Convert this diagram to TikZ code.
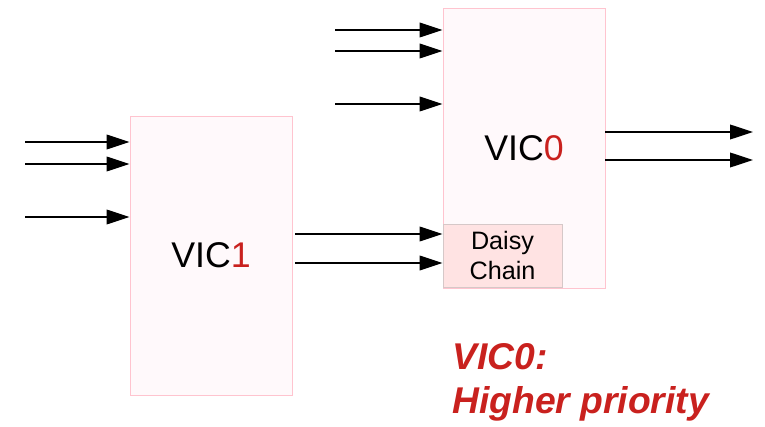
\documentclass[tikz,border=0pt]{standalone}
\usepackage{xcolor}
\usepackage{fontspec}
\setmainfont{Liberation Sans}
\usepackage{tikz}
\usetikzlibrary{arrows.meta, positioning, calc}
\definecolor{vicRed}{HTML}{C9211E}
\definecolor{vicBorder}{HTML}{FFC4CF}
\definecolor{vicFill}{HTML}{FFF9FB}
\definecolor{chainFill}{HTML}{FFE3E3}
\definecolor{chainBorder}{HTML}{D6C8C8}

\begin{document}
\begin{tikzpicture}[x=0.03cm, y=-0.03cm,
    vicbox/.style={rectangle, minimum width=4.86cm, minimum height=8.4cm, inner sep=0pt,
      draw=vicBorder, fill=vicFill, line width=0.8pt,
      font=\fontsize{30.5}{36}\selectfont},
    chainbox/.style={rectangle, minimum width=3.57cm, minimum height=1.89cm, inner sep=0pt,
      align=center, draw=chainBorder, fill=chainFill, line width=0.8pt,
      font=\fontsize{21.5}{25.6}\selectfont},
    sig/.style={-{Triangle[length=19.5pt, width=12.5pt]}, line width=1.2pt, black}
  ]
  \useasboundingbox (0,0) rectangle (765,427);
  % the two controllers
  \node[vicbox, minimum height=8.37cm] (vic1) at (211,255.5) {VIC\textcolor{vicRed}{1}};
  \node[vicbox] (vic0) at (524,148) {VIC\textcolor{vicRed}{0}};
  \node[chainbox] (chain) at (502.5,255.5) {Daisy\\Chain};
  % interrupt inputs
  \foreach \i/\y in {1/142, 2/164, 3/217} {
    \coordinate (a\i) at (25,\y);
    \draw[sig] (a\i) -- (a\i -| vic1.west);
  }
  \foreach \i/\y in {1/30, 2/51, 3/104} {
    \coordinate (b\i) at (335,\y);
    \draw[sig] (b\i) -- (b\i -| vic0.west);
  }
  % VIC1 -> daisy chain
  \foreach \i/\y in {1/234, 2/263} {
    \coordinate (c\i) at (295,\y);
    \draw[sig] (c\i) -- (c\i -| chain.west);
  }
  % outputs
  \foreach \i/\y in {1/132, 2/160} {
    \coordinate (o\i) at (753,\y);
    \draw[sig] (o\i -| vic0.east) -- (o\i);
  }
  \node[anchor=north west, inner sep=0pt, align=left, text=vicRed,
    font=\fontsize{31.8}{37.5}\selectfont\bfseries\itshape] (note) at (452,343) {VIC0:\\Higher priority};
\end{tikzpicture}
\end{document}
